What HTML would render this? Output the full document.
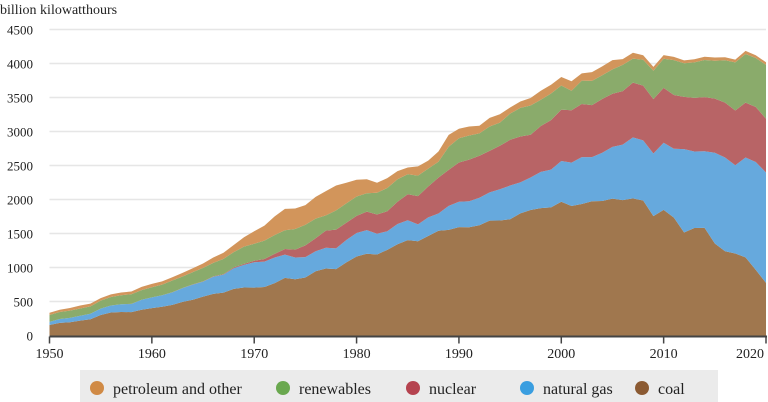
<!DOCTYPE html>
<html><head><meta charset="utf-8">
<style>
html,body{margin:0;padding:0;background:#fff;}
svg{display:block;}
text{font-family:"Liberation Serif","DejaVu Serif",serif;}
</style></head>
<body>
<svg id="chart" width="768" height="402" viewBox="0 0 768 402" xmlns="http://www.w3.org/2000/svg" font-family="Liberation Serif, serif">
<text x="0" y="14" font-size="14" fill="#222" font-family="Liberation Serif, serif">billion kilowatthours</text>
<g id="grid"></g>
<g id="areas"></g>
<g id="axes"></g>
<g>
<rect x="80" y="370" width="638" height="32" fill="#ebebeb"/>
<g id="legend"></g>
</g>
</svg>
<script>
const years = [];
for (let y = 1950; y <= 2020; y++) years.push(y);
const coal = [155,185,195,219,239,301,338,346,344,378,403,422,450,494,526,571,613,630,685,706,704,713,771,848,828,853,944,985,976,1075,1162,1203,1192,1259,1342,1402,1386,1464,1541,1554,1594,1592,1621,1690,1691,1709,1796,1845,1874,1884,1966,1904,1933,1974,1978,2013,1991,2016,1986,1756,1847,1733,1514,1581,1582,1352,1239,1206,1149,965,774];
const gas = [45,57,65,72,80,95,104,114,120,147,158,169,184,202,222,222,251,265,304,333,373,374,376,341,320,300,295,306,305,329,346,346,305,274,297,292,249,273,253,352,373,382,404,415,460,496,455,479,532,556,601,639,691,650,710,761,816,897,883,921,988,1014,1226,1125,1127,1335,1379,1297,1469,1586,1624];
const nuclear = [0,0,0,0,0,0,0,0,0.2,0.2,0.5,1.7,2.3,3.2,3.3,3.7,5.5,7.7,12.5,13.9,21.8,38,54,83,114,173,191,251,276,255,251,273,283,294,328,384,414,455,527,529,577,613,619,610,640,673,675,629,674,728,754,769,780,764,789,782,787,806,806,799,807,790,769,789,797,797,806,805,807,809,790];
const renewables = [101,104,106,106,109,117,124,132,143,142,149,155,172,169,180,197,198,225,225,254,251,270,277,276,305,303,288,224,283,284,285,270,320,343,331,293,302,262,235,340,357,355,328,359,340,385,421,429,387,391,356,287,344,356,351,358,385,352,380,417,427,513,495,522,546,556,624,708,714,720,792];
const petroleum = [34,33,38,44,40,37,38,40,40,47,48,49,48,52,57,65,79,89,104,138,184,220,274,314,301,289,320,358,365,304,246,206,147,144,120,100,137,118,149,175,140,132,113,126,122,90,95,110,133,129,125,140,107,130,130,136,86,87,66,57,55,47,42,46,48,48,44,41,46,41,38];
const yTicks = [0,500,1000,1500,2000,2500,3000,3500,4000,4500];
const xTicks = [1950,1960,1970,1980,1990,2000,2010,2020];

const FONT = 'Liberation Serif, serif';
const X0 = 49.5, X1 = 766, Y0 = 335.5, YTOP = 29.5;
const xs = y => X0 + (y - 1950) * (X1 - X0) / 70;
const ys = v => Y0 - v * (Y0 - YTOP) / 4500;
const NS = 'http://www.w3.org/2000/svg';
function mk(tag, attrs, parent) {
  const e = document.createElementNS(NS, tag);
  for (const k in attrs) e.setAttribute(k, attrs[k]);
  parent.appendChild(e);
  return e;
}
const grid = document.getElementById('grid');
yTicks.forEach(t => {
  if (t > 0) {
    const l = mk('line', {x1: X0, x2: X1, y1: ys(t), y2: ys(t), stroke: '#e6e6e6', 'stroke-width': 1.5}, grid);
    
    
  }
  const tx = mk('text', {x: 33, y: ys(t) + 5, 'text-anchor': 'end', 'font-size': 13, fill: '#222', 'font-family': FONT}, grid);
  tx.textContent = t;
  
  
});

const series = [
  {name: 'coal', data: coal, color: '#a0774e'},
  {name: 'natural-gas', data: gas, color: '#66a9dd'},
  {name: 'nuclear', data: nuclear, color: '#b86466'},
  {name: 'renewables', data: renewables, color: '#8aab6b'},
  {name: 'petroleum-and-other', data: petroleum, color: '#d2955b'}
];
const areas = document.getElementById('areas');
const base = years.map(() => 0);
series.forEach(s => {
  const top = base.map((b, i) => b + s.data[i]);
  let d = 'M' + years.map((y, i) => xs(y).toFixed(2) + ',' + ys(top[i]).toFixed(2)).join(' L');
  for (let i = years.length - 1; i >= 0; i--) d += ' L' + xs(years[i]).toFixed(2) + ',' + ys(base[i]).toFixed(2);
  d += ' Z';
  const p = mk('path', {d: d, fill: s.color}, areas);
  
  
  top.forEach((v, i) => base[i] = v);
});

const axes = document.getElementById('axes');
const ax = mk('line', {x1: X0, x2: X1 + 1, y1: Y0 + 1, y2: Y0 + 1, stroke: '#444', 'stroke-width': 2}, axes);


xTicks.forEach(t => {
  const l = mk('line', {x1: xs(t), x2: xs(t), y1: Y0 + 1, y2: Y0 + 8, stroke: '#444', 'stroke-width': 1.5}, axes);
  
  
  const tx = mk('text', {x: Math.min(xs(t), 750), y: 358, 'text-anchor': 'middle', 'font-size': 14, fill: '#222', 'font-family': FONT}, axes);
  tx.textContent = t;
  
  
});

const legendItems = [
  {label: 'petroleum and other', color: '#d08a45', x: 97},
  {label: 'renewables', color: '#6aa84f', x: 283},
  {label: 'nuclear', color: '#b5434f', x: 413},
  {label: 'natural gas', color: '#3a9ee0', x: 527},
  {label: 'coal', color: '#8b5a32', x: 642}
];
const lg = document.getElementById('legend');
legendItems.forEach(it => {
  const c = mk('circle', {cx: it.x, cy: 388, r: 7, fill: it.color}, lg);
  
  
  const t = mk('text', {x: it.x + 16, y: 394, 'font-size': 16, fill: '#222', 'font-family': FONT}, lg);
  t.textContent = it.label;
  
  
});
</script>
</body></html>
